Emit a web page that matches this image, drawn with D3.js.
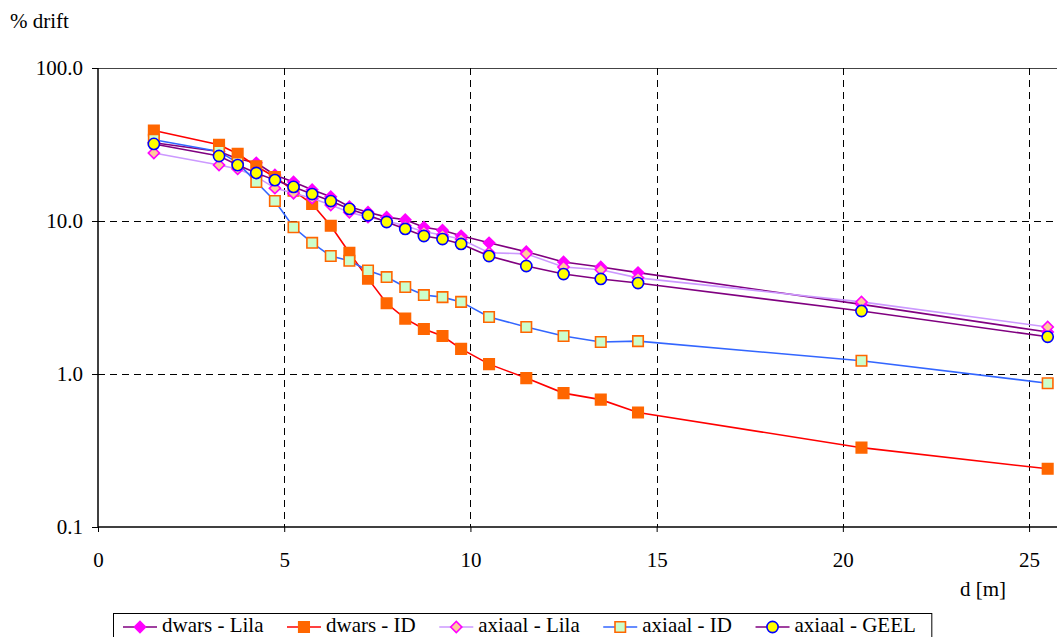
<!DOCTYPE html>
<html>
<head>
<meta charset="utf-8">
<script src="https://cdn.jsdelivr.net/npm/d3@7"></script>
<style>
  html, body { margin: 0; padding: 0; background: #fff; }
  svg { display: block; font-family: "Liberation Serif", "Times New Roman", Times, serif; }
</style>
</head>
<body>
<svg id="chart" width="1057" height="637"></svg>
<script>
// ---- data ----
const distances = [1.5, 3.25, 3.75, 4.25, 4.75, 5.25, 5.75, 6.25, 6.75, 7.25, 7.75, 8.25, 8.75, 9.25, 9.75, 10.5, 11.5, 12.5, 13.5, 14.5, 20.5, 25.5];
const dwarsLila  = [32.5, 28.5, 25.5, 24.0, 20.0, 18.0, 16.0, 14.4, 12.4, 11.4, 10.6, 10.2, 9.1, 8.7, 8.0, 7.2, 6.3, 5.4, 5.0, 4.6, 2.85, 1.88];
const dwarsID    = [39.0, 31.5, 27.5, 22.8, 19.4, 15.8, 12.9, 9.3, 6.2, 4.2, 2.9, 2.3, 1.97, 1.77, 1.46, 1.16, 0.94, 0.75, 0.68, 0.56, 0.33, 0.24];
const axiaalLila = [27.8, 23.2, 21.9, 19.5, 16.4, 15.2, 14.1, 12.7, 11.4, 10.6, 10.0, 9.3, 8.5, 8.1, 7.6, 6.2, 6.1, 5.0, 4.8, 4.25, 2.96, 2.03];
const axiaalID   = [34.0, 28.5, 24.0, 18.0, 13.5, 9.1, 7.2, 5.9, 5.5, 4.75, 4.3, 3.7, 3.28, 3.18, 2.96, 2.36, 2.03, 1.77, 1.62, 1.64, 1.22, 0.87];
const axiaalGeel = [31.9, 26.6, 23.2, 20.6, 18.5, 16.7, 15.0, 13.5, 12.0, 10.9, 9.85, 8.87, 7.98, 7.62, 7.08, 5.9, 5.08, 4.5, 4.18, 3.93, 2.58, 1.75];
const seriesNames = ["dwars - Lila", "dwars - ID", "axiaal - Lila", "axiaal - ID", "axiaal - GEEL"];
const xTicks = [0, 5, 10, 15, 20, 25];
const yTicks = [0.1, 1, 10, 100];
const yLabel = "% drift";
const xLabel = "d [m]";

// ---- styles ----
const styles = [
  { line: "#800080", shape: "diamond", fill: "#FF00FF", stroke: "#FF00FF" },
  { line: "#FF0000", shape: "square",  fill: "#FF6600", stroke: "#FF6600" },
  { line: "#CC99FF", shape: "diamond", fill: "#FFCC99", stroke: "#FF00FF" },
  { line: "#3366FF", shape: "square",  fill: "#CCFFCC", stroke: "#FF6600" },
  { line: "#800080", shape: "circle",  fill: "#FFFF00", stroke: "#0000FF" }
];
const seriesValues = [dwarsLila, dwarsID, axiaalLila, axiaalID, axiaalGeel];
const series = seriesNames.map((name, i) => ({
  name, style: styles[i],
  points: distances.map((d, j) => ({ x: d, y: seriesValues[i][j] }))
}));

const FS = 21;
const svg = d3.select("#chart");
const pLeft = 98, pRight = 1057, pTop = 68, pBottom = 527;
const x = d3.scaleLinear().domain([0, 25.75]).range([pLeft, pRight]);
const y = d3.scaleLog().domain([0.1, 100]).range([pBottom, pTop]);

// gridlines
const grid = svg.append("g").attr("stroke", "#000").attr("stroke-width", 1);
grid.selectAll("line.h").data(yTicks.filter(v => v > 0.1)).join("line")
  .attr("x1", pLeft).attr("x2", pRight)
  .attr("y1", d => Math.round(y(d)) + 0.5).attr("y2", d => Math.round(y(d)) + 0.5)
  .attr("stroke-dasharray", d => d === 100 ? null : "7,5")
  .attr("stroke", d => d === 100 ? "#444" : "#000");
grid.selectAll("line.v").data(xTicks.filter(v => v > 0)).join("line")
  .attr("y1", pTop).attr("y2", pBottom)
  .attr("x1", d => Math.round(x(d)) + 0.5).attr("x2", d => Math.round(x(d)) + 0.5)
  .attr("stroke-dasharray", "7,5");

// axes
const yAxis = svg.append("g").attr("transform", `translate(${pLeft},0)`)
  .call(d3.axisLeft(y).tickValues(yTicks).tickFormat(d3.format(".1f")).tickSize(6).tickPadding(9));
const xAxis = svg.append("g").attr("transform", `translate(0,${pBottom})`)
  .call(d3.axisBottom(x).tickValues(xTicks).tickFormat(d3.format("d")).tickSize(5).tickPadding(20));
[yAxis, xAxis].forEach(g => {
  g.attr("font-family", null);
  g.select(".domain").attr("stroke", "#000").attr("stroke-width", 1.5);
  g.selectAll(".tick line").attr("stroke", "#000");
  g.selectAll(".tick text").attr("font-size", FS).attr("fill", "#000");
});
yAxis.select(".domain").attr("d", `M0,${pTop}V${pBottom}`);
xAxis.select(".domain").attr("d", `M${pLeft},0H${pRight}`);

// axis labels
svg.append("text").attr("x", 10).attr("y", 28).attr("font-size", FS).text(yLabel);
svg.append("text").attr("x", 960).attr("y", 596).attr("font-size", FS).text(xLabel);

// markers
function drawMarker(sel, st) {
  if (st.shape === "circle") {
    sel.append("circle").attr("r", 5.6).attr("fill", st.fill).attr("stroke", st.stroke).attr("stroke-width", 1.6);
  } else if (st.shape === "square") {
    sel.append("path").attr("d", d3.symbol(d3.symbolSquare, 110)())
      .attr("fill", st.fill).attr("stroke", st.stroke).attr("stroke-width", 1.6);
  } else {
    sel.append("path").attr("d", d3.symbol(d3.symbolSquare, 62)()).attr("transform", "rotate(45)")
      .attr("fill", st.fill).attr("stroke", st.stroke).attr("stroke-width", 1.6);
  }
}

const line = d3.line().x(d => x(d.x)).y(d => y(d.y));
series.forEach(s => {
  const g = svg.append("g");
  g.append("path").datum(s.points).attr("d", line)
    .attr("fill", "none").attr("stroke", s.style.line).attr("stroke-width", 1.6);
  g.selectAll("g.m").data(s.points).join("g")
    .attr("transform", d => `translate(${x(d.x)},${y(d.y)})`)
    .each(function () { drawMarker(d3.select(this), s.style); });
});

// legend
const legend = svg.append("g");
const legY = 627;
const box = legend.append("rect").attr("x", 113.5).attr("y", 613.5).attr("height", 40)
  .attr("fill", "#fff").attr("stroke", "#000").attr("stroke-width", 1);
let lx = 123;
series.forEach((s) => {
  const item = legend.append("g");
  item.append("line").attr("x1", lx).attr("x2", lx + 34).attr("y1", legY).attr("y2", legY)
    .attr("stroke", s.style.line).attr("stroke-width", 1.6);
  const m = item.append("g").attr("transform", `translate(${lx + 17},${legY})`);
  drawMarker(m, s.style);
  const t = item.append("text").attr("x", lx + 39).attr("y", 632).attr("font-size", FS).text(s.name);
  lx = lx + 39 + t.node().getComputedTextLength() + 23.5;
});
box.attr("width", (lx - 23.5 + 16) - 113.5);
</script>
</body>
</html>
